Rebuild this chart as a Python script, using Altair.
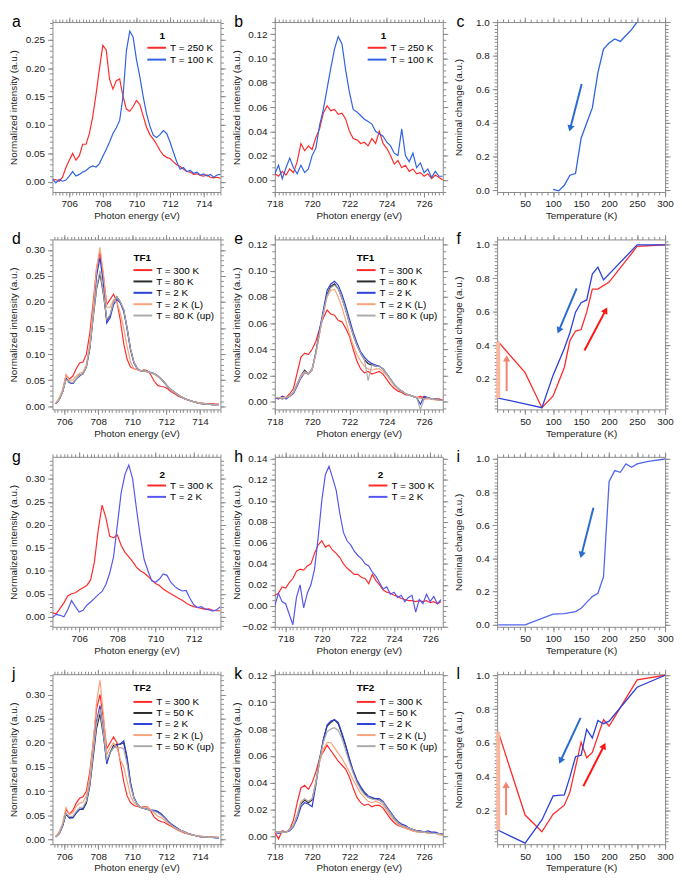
import math
import altair as alt
import pandas as pd

FONT = "Liberation Sans"
W, H = 170, 172

RED = "#ff2b2b"
BLUE_A = "#2f62e3"
BLUE_G = "#5656ee"
BLUE_I = "#5266ee"
BLUE_TF = "#2b3fd9"
BLACK = "#2b2b2b"
ORANGE = "#f7a47c"
GRAY = "#ababab"
ARROW_BLUE = "#2a6bd0"
ARROW_RED = "#ff1414"
ARROW_ORANGE = "#f0846e"
BAR_ORANGE = "#f9b7a0"

# ---------------- data ----------------
A_E = [705.0, 705.2, 705.4, 705.6, 705.8, 706.0, 706.2, 706.4, 706.6, 706.8,
       707.0, 707.2, 707.4, 707.6, 707.8, 708.0, 708.2, 708.4, 708.6, 708.8,
       709.0, 709.2, 709.4, 709.6, 709.8, 710.0, 710.2, 710.4, 710.6, 710.8,
       711.0, 711.2, 711.4, 711.6, 711.8, 712.0, 712.2, 712.4, 712.6, 712.8,
       713.0, 713.2, 713.4, 713.6, 713.8, 714.0, 714.2, 714.4, 714.6, 714.8, 715.0]
A_RED = [0.003, 0.004, 0.001, 0.008, 0.025, 0.038, 0.050, 0.038, 0.046, 0.066,
         0.066, 0.085, 0.115, 0.155, 0.200, 0.240, 0.232, 0.180, 0.163, 0.178,
         0.181, 0.150, 0.128, 0.124, 0.132, 0.143, 0.136, 0.116, 0.096, 0.083,
         0.075, 0.066, 0.055, 0.047, 0.043, 0.041, 0.035, 0.030, 0.027, 0.022,
         0.018, 0.017, 0.013, 0.014, 0.011, 0.010, 0.012, 0.008, 0.007, 0.008, 0.006]
A_BLUE = [0.005, -0.002, 0.004, 0.001, 0.003, 0.010, 0.018, 0.010, 0.013, 0.017,
          0.020, 0.025, 0.028, 0.026, 0.032, 0.045, 0.057, 0.070, 0.085, 0.095,
          0.108, 0.150, 0.230, 0.265, 0.255, 0.215, 0.185, 0.150, 0.120, 0.098,
          0.082, 0.078, 0.083, 0.090, 0.085, 0.070, 0.052, 0.035, 0.022, 0.025,
          0.018, 0.020, 0.015, 0.017, 0.012, 0.014, 0.010, 0.013, 0.008, 0.012, 0.013]

L2_E = [718.0, 718.2, 718.4, 718.6, 718.8, 719.0, 719.2, 719.4, 719.6, 719.8,
        720.0, 720.2, 720.4, 720.6, 720.8, 721.0, 721.2, 721.4, 721.6, 721.8,
        722.0, 722.2, 722.4, 722.6, 722.8, 723.0, 723.2, 723.4, 723.6, 723.8,
        724.0, 724.2, 724.4, 724.6, 724.8, 725.0, 725.2, 725.4, 725.6, 725.8,
        726.0, 726.2, 726.4, 726.6, 726.8, 727.0]
B_RED = [0.005, 0.003, 0.007, 0.004, 0.009, 0.006, 0.015, 0.030, 0.024, 0.028,
         0.025, 0.035, 0.042, 0.055, 0.061, 0.057, 0.058, 0.054, 0.055, 0.050,
         0.040, 0.034, 0.033, 0.030, 0.031, 0.028, 0.034, 0.030, 0.040, 0.030,
         0.026, 0.020, 0.013, 0.016, 0.010, 0.012, 0.007, 0.009, 0.005, 0.006,
         0.003, 0.005, 0.001, 0.004, 0.002, 0.000]
B_BLUE = [0.005, 0.012, 0.001, 0.010, 0.018, 0.010, 0.005, 0.012, 0.006, 0.009,
          0.020, 0.026, 0.045, 0.058, 0.075, 0.092, 0.108, 0.118, 0.112, 0.090,
          0.072, 0.058, 0.056, 0.053, 0.050, 0.048, 0.046, 0.040, 0.038, 0.036,
          0.031, 0.028, 0.022, 0.020, 0.042, 0.020, 0.015, 0.022, 0.010, 0.014,
          0.006, 0.009, 0.002, 0.007, 0.003, 0.003]

C_T = [100, 110, 120, 130, 140, 150, 160, 170, 180, 190, 200, 210, 220, 230, 240, 250]
C_V = [0.005, -0.003, 0.03, 0.09, 0.10, 0.31, 0.40, 0.49, 0.70, 0.84, 0.875, 0.90, 0.885, 0.92, 0.955, 1.0]
C_ARROW = (151, 0.632, 131, 0.374)

D_E = [705.5, 705.7, 705.9, 706.1, 706.3, 706.5, 706.7, 706.9, 707.1, 707.3,
       707.5, 707.7, 707.9, 708.1, 708.3, 708.5, 708.7, 708.9, 709.1, 709.3,
       709.5, 709.7, 709.9, 710.1, 710.3, 710.5, 710.7, 710.9, 711.1, 711.3,
       711.5, 711.7, 711.9, 712.1, 712.3, 712.5, 712.7, 712.9, 713.1, 713.3,
       713.5, 713.7, 713.9, 714.1, 714.3, 714.5, 714.7, 714.9, 715.1]
D_RED = [0.005, 0.015, 0.030, 0.060, 0.052, 0.058, 0.072, 0.083, 0.085, 0.100,
         0.140, 0.200, 0.265, 0.295, 0.250, 0.195, 0.205, 0.215, 0.200, 0.165,
         0.120, 0.090, 0.075, 0.072, 0.070, 0.068, 0.070, 0.068, 0.060, 0.048,
         0.040, 0.038, 0.037, 0.033, 0.028, 0.024, 0.020, 0.017, 0.014, 0.012,
         0.010, 0.008, 0.007, 0.006, 0.005, 0.005, 0.005, 0.004, 0.004]
D_BLACK = [0.005, 0.013, 0.028, 0.052, 0.046, 0.044, 0.052, 0.060, 0.062, 0.075,
           0.110, 0.170, 0.225, 0.255, 0.215, 0.165, 0.175, 0.200, 0.210, 0.200,
           0.185, 0.150, 0.110, 0.085, 0.072, 0.068, 0.068, 0.067, 0.064, 0.062,
           0.058, 0.053, 0.046, 0.038, 0.032, 0.027, 0.022, 0.018, 0.015, 0.012,
           0.010, 0.008, 0.006, 0.005, 0.004, 0.004, 0.003, 0.003, 0.003]
D_BLUE = [0.005, 0.013, 0.028, 0.054, 0.045, 0.044, 0.052, 0.058, 0.063, 0.078,
          0.115, 0.180, 0.250, 0.285, 0.235, 0.160, 0.170, 0.195, 0.205, 0.198,
          0.182, 0.148, 0.108, 0.083, 0.072, 0.068, 0.068, 0.066, 0.065, 0.063,
          0.058, 0.052, 0.045, 0.037, 0.031, 0.026, 0.022, 0.018, 0.014, 0.012,
          0.010, 0.008, 0.006, 0.005, 0.004, 0.004, 0.003, 0.003, 0.003]
D_ORANGE = [0.006, 0.016, 0.032, 0.060, 0.050, 0.050, 0.058, 0.063, 0.066, 0.080,
            0.120, 0.190, 0.265, 0.305, 0.255, 0.190, 0.190, 0.205, 0.200, 0.178,
            0.150, 0.115, 0.085, 0.072, 0.070, 0.068, 0.068, 0.066, 0.064, 0.062,
            0.057, 0.052, 0.046, 0.038, 0.031, 0.026, 0.022, 0.018, 0.014, 0.012,
            0.010, 0.008, 0.007, 0.006, 0.005, 0.004, 0.004, 0.003, 0.003]
D_GRAY = [0.005, 0.013, 0.028, 0.051, 0.047, 0.045, 0.052, 0.060, 0.062, 0.076,
          0.112, 0.172, 0.228, 0.260, 0.218, 0.167, 0.176, 0.200, 0.210, 0.200,
          0.186, 0.150, 0.110, 0.085, 0.072, 0.068, 0.068, 0.067, 0.064, 0.062,
          0.058, 0.053, 0.046, 0.038, 0.032, 0.027, 0.022, 0.018, 0.015, 0.012,
          0.010, 0.008, 0.006, 0.005, 0.004, 0.004, 0.003, 0.003, 0.003]

E_RED = [0.003, 0.002, 0.004, 0.003, 0.006, 0.010, 0.022, 0.034, 0.037, 0.036,
         0.040, 0.046, 0.056, 0.064, 0.070, 0.067, 0.066, 0.062, 0.061, 0.056,
         0.050, 0.040, 0.031, 0.025, 0.022, 0.023, 0.021, 0.022, 0.023, 0.021,
         0.017, 0.013, 0.010, 0.008, 0.007, 0.005, 0.005, 0.004, 0.003, 0.004,
         0.003, 0.003, 0.002, 0.002, 0.002, 0.001]
E_BLACK = [0.003, 0.003, 0.002, 0.003, 0.004, 0.007, 0.013, 0.020, 0.024, 0.021,
           0.025, 0.037, 0.053, 0.068, 0.082, 0.088, 0.090, 0.086, 0.079, 0.070,
           0.060, 0.051, 0.043, 0.037, 0.032, 0.029, 0.028, 0.027, 0.027, 0.025,
           0.021, 0.017, 0.013, 0.010, 0.008, 0.006, 0.005, 0.004, 0.003, 0.003,
           0.002, 0.003, 0.002, 0.002, 0.001, 0.001]
E_BLUE = [0.003, 0.002, 0.004, 0.002, 0.004, 0.006, 0.012, 0.018, 0.022, 0.021,
          0.024, 0.038, 0.055, 0.070, 0.085, 0.090, 0.092, 0.089, 0.082, 0.073,
          0.063, 0.053, 0.045, 0.038, 0.034, 0.031, 0.029, 0.028, 0.027, 0.025,
          0.021, 0.017, 0.013, 0.010, 0.008, 0.006, 0.005, 0.004, 0.003, -0.002,
          0.004, 0.003, 0.002, 0.002, 0.001, 0.001]
E_ORANGE = [0.003, 0.003, 0.003, 0.003, 0.004, 0.007, 0.013, 0.019, 0.022, 0.021,
            0.024, 0.036, 0.052, 0.067, 0.080, 0.085, 0.086, 0.080, 0.072, 0.062,
            0.052, 0.043, 0.036, 0.031, 0.027, 0.025, 0.024, 0.025, 0.025, 0.023,
            0.020, 0.016, 0.012, 0.010, 0.008, 0.006, 0.005, 0.004, 0.003, 0.003,
            0.002, 0.002, 0.002, 0.001, 0.001, 0.001]
E_GRAY = [0.003, 0.003, 0.002, 0.003, 0.004, 0.007, 0.014, 0.020, 0.023, 0.021,
          0.025, 0.037, 0.053, 0.067, 0.081, 0.087, 0.089, 0.086, 0.079, 0.070,
          0.060, 0.051, 0.043, 0.037, 0.032, 0.016, 0.028, 0.027, 0.027, 0.025,
          0.021, 0.017, 0.013, 0.010, 0.008, 0.006, 0.005, 0.004, 0.003, -0.006,
          0.002, 0.003, 0.002, 0.002, 0.001, 0.001]

F_T_COOL = [2, 80, 100, 120, 130, 140, 150, 160, 170, 180, 190, 250, 300]
F_COOL = [0.083, 0.025, 0.22, 0.38, 0.474, 0.597, 0.654, 0.67, 0.825, 0.866, 0.79, 1.0, 1.0]
F_T_HEAT = [2, 50, 80, 100, 120, 130, 140, 150, 160, 170, 180, 200, 250, 300]
F_HEAT = [0.42, 0.235, 0.025, 0.096, 0.266, 0.427, 0.484, 0.493, 0.597, 0.735, 0.735, 0.777, 0.99, 1.0]
F_BAR = (2, 0.083, 0.42)
F_ARROW_BLUE = (142, 0.739, 111, 0.493)
F_ARROW_RED = (156, 0.367, 193, 0.603)
F_ARROW_ORANGE = (17, 0.125, 17, 0.314)

G_E = [704.6, 704.8, 705.0, 705.2, 705.4, 705.6, 705.8, 706.0, 706.2, 706.4,
       706.6, 706.8, 707.0, 707.2, 707.4, 707.6, 707.8, 708.0, 708.2, 708.4,
       708.6, 708.8, 709.0, 709.2, 709.4, 709.6, 709.8, 710.0, 710.2, 710.4,
       710.6, 710.8, 711.0, 711.2, 711.4, 711.6, 711.8, 712.0, 712.2, 712.4,
       712.6, 712.8, 713.0, 713.2, 713.4]
G_RED = [0.008, 0.006, 0.018, 0.030, 0.045, 0.050, 0.052, 0.058, 0.063, 0.068,
         0.080, 0.120, 0.190, 0.243, 0.215, 0.175, 0.172, 0.178, 0.155, 0.140,
         0.130, 0.120, 0.108, 0.100, 0.095, 0.088, 0.080, 0.072, 0.068, 0.060,
         0.055, 0.050, 0.045, 0.040, 0.036, 0.030, 0.025, 0.022, 0.020, 0.018,
         0.016, 0.017, 0.014, 0.013, 0.013]
G_BLUE = [-0.002, 0.005, 0.003, 0.000, 0.015, 0.035, 0.022, 0.010, 0.014, 0.025,
          0.032, 0.040, 0.048, 0.055, 0.070, 0.095, 0.130, 0.200, 0.270, 0.310,
          0.330, 0.300, 0.235, 0.175, 0.125, 0.100, 0.078, 0.075, 0.082, 0.093,
          0.090, 0.075, 0.066, 0.060, 0.056, 0.057, 0.040, 0.026, 0.020, 0.022,
          0.017, 0.015, 0.012, 0.015, 0.022]

H_E = [717.4, 717.6, 717.8, 718.0, 718.2, 718.4, 718.6, 718.8, 719.0, 719.2,
       719.4, 719.6, 719.8, 720.0, 720.2, 720.4, 720.6, 720.8, 721.0, 721.2,
       721.4, 721.6, 721.8, 722.0, 722.2, 722.4, 722.6, 722.8, 723.0, 723.2,
       723.4, 723.6, 723.8, 724.0, 724.2, 724.4, 724.6, 724.8, 725.0, 725.2,
       725.4, 725.6, 725.8, 726.0, 726.2, 726.4, 726.6]
H_RED = [0.010, 0.012, 0.018, 0.017, 0.022, 0.026, 0.033, 0.035, 0.034, 0.038,
         0.040, 0.050, 0.058, 0.062, 0.056, 0.058, 0.053, 0.050, 0.046, 0.040,
         0.036, 0.033, 0.030, 0.030, 0.027, 0.026, 0.021, 0.030, 0.024, 0.020,
         0.015, 0.013, 0.012, 0.010, 0.009, 0.007, 0.006, 0.005, 0.005, 0.004,
         0.005, 0.004, 0.005, 0.003, 0.004, 0.002, 0.004]
H_BLUE = [0.000, 0.012, 0.004, 0.002, -0.008, -0.018, 0.008, 0.020, -0.002, 0.012,
          0.020, 0.035, 0.065, 0.100, 0.125, 0.133, 0.122, 0.110, 0.088, 0.070,
          0.062, 0.058, 0.052, 0.048, 0.045, 0.040, 0.038, 0.032, 0.028, 0.022,
          0.016, 0.018, 0.011, 0.013, 0.008, 0.010, 0.004, 0.008, 0.010, -0.006,
          0.006, 0.002, 0.011, 0.004, 0.009, 0.002, 0.006]

I_T = [2, 50, 100, 120, 140, 150, 160, 170, 180, 190, 200, 210, 220, 230, 240, 250, 270, 300]
I_V = [0.0, 0.0, 0.065, 0.068, 0.08, 0.10, 0.135, 0.17, 0.19, 0.29, 0.865, 0.93, 0.92, 0.97, 0.95, 0.97, 0.985, 1.0]
I_ARROW = (172, 0.706, 151, 0.427)

J_RED = [0.006, 0.014, 0.030, 0.062, 0.052, 0.060, 0.075, 0.085, 0.088, 0.100,
         0.140, 0.200, 0.270, 0.300, 0.250, 0.188, 0.200, 0.212, 0.200, 0.160,
         0.120, 0.090, 0.076, 0.070, 0.068, 0.066, 0.068, 0.067, 0.058, 0.046,
         0.040, 0.037, 0.035, 0.031, 0.027, 0.023, 0.019, 0.016, 0.013, 0.011,
         0.009, 0.008, 0.007, 0.006, 0.005, 0.005, 0.004, 0.004, 0.004]
J_BLACK = [0.005, 0.012, 0.028, 0.052, 0.045, 0.045, 0.055, 0.062, 0.062, 0.075,
           0.110, 0.170, 0.230, 0.260, 0.215, 0.160, 0.180, 0.195, 0.197, 0.197,
           0.200, 0.165, 0.115, 0.085, 0.072, 0.066, 0.064, 0.062, 0.060, 0.059,
           0.057, 0.052, 0.045, 0.037, 0.031, 0.026, 0.022, 0.018, 0.015, 0.012,
           0.010, 0.008, 0.006, 0.005, 0.005, 0.004, 0.004, 0.004, 0.003]
J_BLUE = [0.005, 0.012, 0.028, 0.054, 0.044, 0.045, 0.055, 0.062, 0.064, 0.078,
          0.115, 0.180, 0.245, 0.277, 0.225, 0.156, 0.180, 0.190, 0.195, 0.198,
          0.204, 0.170, 0.118, 0.087, 0.073, 0.066, 0.064, 0.062, 0.061, 0.060,
          0.058, 0.053, 0.046, 0.038, 0.032, 0.027, 0.022, 0.018, 0.015, 0.012,
          0.010, 0.008, 0.006, 0.005, 0.005, 0.004, 0.004, 0.003, 0.003]
J_ORANGE = [0.006, 0.016, 0.034, 0.066, 0.052, 0.055, 0.068, 0.075, 0.077, 0.090,
            0.130, 0.200, 0.285, 0.330, 0.260, 0.175, 0.190, 0.200, 0.190, 0.165,
            0.150, 0.120, 0.090, 0.076, 0.070, 0.067, 0.067, 0.066, 0.062, 0.055,
            0.048, 0.045, 0.040, 0.034, 0.029, 0.024, 0.020, 0.017, 0.014, 0.011,
            0.009, 0.008, 0.007, 0.006, 0.005, 0.005, 0.004, 0.004, 0.004]
J_GRAY = [0.005, 0.012, 0.030, 0.054, 0.047, 0.048, 0.058, 0.066, 0.067, 0.080,
          0.115, 0.180, 0.240, 0.270, 0.220, 0.165, 0.180, 0.190, 0.190, 0.190,
          0.188, 0.155, 0.110, 0.085, 0.072, 0.066, 0.064, 0.062, 0.060, 0.058,
          0.055, 0.050, 0.044, 0.036, 0.030, 0.025, 0.021, 0.018, 0.015, 0.012,
          0.010, 0.008, 0.006, 0.005, 0.005, 0.004, 0.004, 0.004, 0.003]

K_RED = [0.003, -0.002, 0.004, 0.003, 0.005, 0.012, 0.025, 0.036, 0.038, 0.035,
         0.040, 0.048, 0.058, 0.063, 0.068, 0.064, 0.060, 0.056, 0.053, 0.050,
         0.044, 0.036, 0.029, 0.025, 0.023, 0.024, 0.022, 0.023, 0.023, 0.021,
         0.017, 0.013, 0.010, 0.008, 0.007, 0.006, 0.005, 0.004, 0.004, 0.003,
         0.003, 0.003, 0.002, 0.002, 0.002, 0.001]
K_BLACK = [0.003, 0.003, 0.003, 0.003, 0.005, 0.008, 0.015, 0.024, 0.027, 0.025,
           0.027, 0.040, 0.058, 0.072, 0.082, 0.085, 0.087, 0.084, 0.076, 0.067,
           0.057, 0.048, 0.041, 0.036, 0.032, 0.029, 0.028, 0.028, 0.027, 0.025,
           0.021, 0.017, 0.013, 0.010, 0.008, 0.007, 0.006, 0.005, 0.004, 0.003,
           0.003, 0.003, 0.002, 0.002, 0.002, 0.001]
K_BLUE = [0.003, 0.002, 0.003, 0.003, 0.004, 0.007, 0.013, 0.022, 0.025, 0.024,
          0.022, 0.038, 0.056, 0.072, 0.083, 0.086, 0.087, 0.085, 0.077, 0.068,
          0.058, 0.049, 0.042, 0.037, 0.033, 0.030, 0.029, 0.028, 0.028, 0.026,
          0.022, 0.018, 0.014, 0.011, 0.009, 0.008, 0.006, 0.005, 0.004, 0.004,
          0.003, 0.004, 0.003, 0.003, 0.002, 0.002]
K_ORANGE = [0.003, 0.003, 0.003, 0.003, 0.005, 0.008, 0.016, 0.026, 0.028, 0.026,
            0.028, 0.040, 0.055, 0.065, 0.070, 0.070, 0.066, 0.062, 0.058, 0.053,
            0.048, 0.042, 0.037, 0.032, 0.029, 0.026, 0.025, 0.026, 0.025, 0.023,
            0.019, 0.015, 0.012, 0.009, 0.007, 0.006, 0.005, 0.004, 0.003, 0.003,
            0.003, 0.002, 0.002, 0.002, 0.001, 0.001]
K_GRAY = [0.003, 0.003, 0.003, 0.003, 0.005, 0.008, 0.015, 0.025, 0.028, 0.026,
          0.028, 0.040, 0.057, 0.070, 0.078, 0.080, 0.081, 0.079, 0.073, 0.064,
          0.055, 0.047, 0.040, 0.035, 0.031, 0.029, 0.028, 0.027, 0.027, 0.025,
          0.021, 0.017, 0.013, 0.010, 0.008, 0.007, 0.006, 0.005, 0.004, 0.003,
          0.003, 0.003, 0.002, 0.002, 0.002, 0.001]

L_T_COOL = [2, 50, 80, 100, 120, 130, 140, 150, 160, 170, 180, 190, 200, 250, 300]
L_COOL = [0.085, 0.009, 0.146, 0.288, 0.294, 0.40, 0.519, 0.528, 0.681, 0.63, 0.733, 0.714, 0.729, 0.929, 1.0]
L_T_HEAT = [2, 50, 80, 100, 120, 130, 150, 160, 170, 190, 200, 250, 300]
L_HEAT = [0.666, 0.175, 0.076, 0.18, 0.233, 0.31, 0.605, 0.513, 0.544, 0.739, 0.70, 0.973, 1.0]
L_BAR = (2, 0.085, 0.666)
L_ARROW_BLUE = (149, 0.748, 114, 0.50)
L_ARROW_RED = (154, 0.345, 190, 0.578)
L_ARROW_ORANGE = (16, 0.174, 16, 0.347)

LAB_1 = ["T = 250 K", "T = 100 K"]
LAB_TF1 = ["T = 300 K", "T = 80 K", "T = 2 K", "T = 2 K (L)", "T = 80 K (up)"]
LAB_2 = ["T = 300 K", "T = 2 K"]
LAB_TF2 = ["T = 300 K", "T = 50 K", "T = 2 K", "T = 2 K (L)", "T = 50 K (up)"]

E_TITLE = "Photon energy (eV)"
I_TITLE = "Normalized intensity (a.u.)"
T_TITLE = "Temperature (K)"
N_TITLE = "Nominal change (a.u.)"


# ---------------- helpers ----------------
def ticks_between(lo, hi, step):
    start = math.ceil(lo / step - 1e-9)
    end = math.floor(hi / step + 1e-9)
    return [round(k * step, 6) for k in range(start, end + 1)]


def sc(dom):
    return alt.Scale(domain=list(dom), nice=False, zero=False)


def frame(xdom, ydom, xmaj, ymaj, xstep, ystep, xfmt, yfmt, xtitle, ytitle):
    df = pd.DataFrame({"x": list(xdom), "y": list(ydom)})
    xmin = ticks_between(xdom[0], xdom[1], xstep)
    ymin = ticks_between(ydom[0], ydom[1], ystep)
    layers = [alt.Chart(df).mark_point(opacity=0).encode(
        x=alt.X("x:Q", scale=sc(xdom), axis=alt.Axis(
            orient="bottom", values=xmaj, format=xfmt, tickSize=5, labelPadding=2,
            labelFlush=False, labelOverlap=False, title=xtitle, titlePadding=2)),
        y=alt.Y("y:Q", scale=sc(ydom), axis=alt.Axis(
            orient="left", values=ymaj, format=yfmt, tickSize=5, labelPadding=3,
            labelFlush=False, labelOverlap=False, title=ytitle, titleX=-34)))]
    for xo, yo, xv, yv, ts in [("top", "right", xmaj, ymaj, 5),
                               ("bottom", "left", xmin, ymin, 3),
                               ("top", "right", xmin, ymin, 3)]:
        layers.append(alt.Chart(df).mark_point(opacity=0).encode(
            x=alt.X("x:Q", scale=sc(xdom), axis=alt.Axis(orient=xo, values=xv, labels=False, tickSize=ts, title=None)),
            y=alt.Y("y:Q", scale=sc(ydom), axis=alt.Axis(orient=yo, values=yv, labels=False, tickSize=ts, title=None))))
    return layers


def text_at(t, x, y, size, weight="normal", align="left"):
    return alt.Chart(pd.DataFrame({"t": [t]})).mark_text(
        font=FONT, fontSize=size, fontWeight=weight, align=align, baseline="alphabetic", color="#000000"
    ).encode(x=alt.value(x), y=alt.value(y), text="t:N")


def manual_legend(labels, colors, x0, y0, dy, title=None, title_xy=None, title_align="left"):
    """Legend drawn inside the plot: a short stroke and a label per entry."""
    out = []
    if title:
        out.append(text_at(title, title_xy[0], title_xy[1], 10, "bold", title_align))
    for i, (lab, col) in enumerate(zip(labels, colors)):
        yy = y0 + i * dy
        out.append(alt.Chart(pd.DataFrame({"t": [lab]})).mark_rule(color=col, strokeWidth=2).encode(
            x=alt.value(x0), x2=alt.value(x0 + 19), y=alt.value(yy)))
        out.append(text_at(lab, x0 + 23, yy + 3.5, 10))
    return out


def spectra_layer(energy, series, labels, colors, xdom, ydom):
    rows = []
    for lab, vals in zip(labels, series):
        assert len(vals) == len(energy), (lab, len(vals), len(energy))
        for e, v in zip(energy, vals):
            rows.append({"E": e, "I": v, "S": lab})
    df = pd.DataFrame(rows)
    return alt.Chart(df).mark_line(strokeWidth=1.2, clip=True).encode(
        x=alt.X("E:Q", scale=sc(xdom), axis=None),
        y=alt.Y("I:Q", scale=sc(ydom), axis=None),
        color=alt.Color("S:N", scale=alt.Scale(domain=labels, range=colors), legend=None),
    )


def temp_line(T, V, color, xdom, ydom):
    df = pd.DataFrame({"T": T, "V": V})
    return alt.Chart(df).mark_line(color=color, strokeWidth=1.3, clip=True).encode(
        x=alt.X("T:Q", scale=sc(xdom), axis=None),
        y=alt.Y("V:Q", scale=sc(ydom), axis=None))


def arrow(a, color, xdom, ydom):
    x1, y1, x2, y2 = a
    dxs = (x2 - x1) / (xdom[1] - xdom[0]) * W
    dys = -(y2 - y1) / (ydom[1] - ydom[0]) * H
    ang = math.degrees(math.atan2(dxs, -dys)) % 360
    df = pd.DataFrame({"x": [x1], "y": [y1], "x2": [x2], "y2": [y2], "a": [ang]})
    line = alt.Chart(df).mark_rule(color=color, strokeWidth=2).encode(
        x=alt.X("x:Q", scale=sc(xdom), axis=None), y=alt.Y("y:Q", scale=sc(ydom), axis=None),
        x2="x2:Q", y2="y2:Q")
    head = alt.Chart(df).mark_point(shape="triangle", filled=True, color=color, size=55, opacity=1).encode(
        x=alt.X("x2:Q", scale=sc(xdom), axis=None), y=alt.Y("y2:Q", scale=sc(ydom), axis=None),
        angle=alt.Angle("a:Q", scale=None))
    return [line, head]


def bar(b, xdom, ydom):
    x, y1, y2 = b
    df = pd.DataFrame({"x": [x], "y": [y1], "y2": [y2]})
    return alt.Chart(df).mark_rule(color=BAR_ORANGE, strokeWidth=4).encode(
        x=alt.X("x:Q", scale=sc(xdom), axis=None), y=alt.Y("y:Q", scale=sc(ydom), axis=None), y2="y2:Q")


LETTER_Y = 5


def panel(layers):
    return alt.layer(*layers).resolve_axis(x="independent", y="independent").properties(width=W, height=H)


def spectra_panel(letter, energy, series, labels, colors, xdom, ydom, xmaj, ymaj, ystep, legend_layers):
    layers = frame(xdom, ydom, xmaj, ymaj, 0.2, ystep, "d", ".2f", E_TITLE, I_TITLE)
    layers.append(spectra_layer(energy, series, labels, colors, xdom, ydom))
    layers += legend_layers
    layers.append(text_at(letter, -41, LETTER_Y, 16))
    return panel(layers)


def temp_panel(letter, ydom, ymaj, lines, extras):
    xdom = (0, 300)
    layers = frame(xdom, ydom, [50, 100, 150, 200, 250, 300], ymaj, 10, 0.02, "d", ".1f", T_TITLE, N_TITLE)
    for T, V, c in lines:
        layers.append(temp_line(T, V, c, xdom, ydom))
    layers += extras
    layers.append(text_at(letter, -41, LETTER_Y, 16))
    return panel(layers)


# ---------------- panels ----------------
XA = (705, 715); YA = (-0.018, 0.281)
XB = (718, 727); YB = (-0.010, 0.130)
YC = (-0.01, 1.0)
XD = (705.3, 715.2); YD = (-0.006, 0.32)
XE = (718, 727); YE = (-0.006, 0.124)
YF = (0.015, 1.032)
XG = (704.6, 713.4); YG = (-0.022, 0.348)
XH = (717.4, 726.7); YH = (-0.02, 0.142)
YI = (-0.012, 1.013)
XJ = (705.3, 715.2); YJ = (-0.01, 0.342)
XK = (718, 727); YK = (-0.006, 0.121)
YL = (0.003, 1.006)
TX = (0, 300)

L3 = [706, 708, 710, 712, 714]
L2T = [718, 720, 722, 724, 726]
Y30 = [0.0, 0.05, 0.10, 0.15, 0.20, 0.25, 0.30]
Y12 = [0.0, 0.02, 0.04, 0.06, 0.08, 0.10, 0.12]
N_ALL = [0.0, 0.2, 0.4, 0.6, 0.8, 1.0]
N_UP = [0.2, 0.4, 0.6, 0.8, 1.0]
C2 = [RED, BLUE_A]
C2G = [RED, BLUE_G]
C5 = [RED, BLACK, BLUE_TF, ORANGE, GRAY]

pa = spectra_panel("a", A_E, [A_RED, A_BLUE], LAB_1, C2, XA, YA, L3,
                   [0.0, 0.05, 0.10, 0.15, 0.20, 0.25], 0.01,
                   manual_legend(LAB_1, C2, 96, 26, 12, "1", (111, 17), "center"))
pb = spectra_panel("b", L2_E, [B_RED, B_BLUE], LAB_1, C2, XB, YB, L2T, Y12, 0.005,
                   manual_legend(LAB_1, C2, 94, 26, 12, "1", (110, 17), "center"))
pc = temp_panel("c", YC, N_ALL, [(C_T, C_V, BLUE_A)], arrow(C_ARROW, ARROW_BLUE, TX, YC))
pd_ = spectra_panel("d", D_E, [D_RED, D_BLACK, D_BLUE, D_ORANGE, D_GRAY], LAB_TF1, C5, XD, YD, L3, Y30, 0.01,
                    manual_legend(LAB_TF1, C5, 82, 31, 11.5, "TF1", (82, 22)))
pe = spectra_panel("e", L2_E, [E_RED, E_BLACK, E_BLUE, E_ORANGE, E_GRAY], LAB_TF1, C5, XE, YE, L2T, Y12, 0.005,
                   manual_legend(LAB_TF1, C5, 83, 31, 11.5, "TF1", (83, 22)))
pf = temp_panel("f", YF, N_UP, [(F_T_HEAT, F_HEAT, RED), (F_T_COOL, F_COOL, BLUE_TF)],
                [bar(F_BAR, TX, YF)] + arrow(F_ARROW_BLUE, ARROW_BLUE, TX, YF)
                + arrow(F_ARROW_RED, ARROW_RED, TX, YF) + arrow(F_ARROW_ORANGE, ARROW_ORANGE, TX, YF))
pg = spectra_panel("g", G_E, [G_RED, G_BLUE], LAB_2, C2G, XG, YG, [706, 708, 710, 712], Y30, 0.01,
                   manual_legend(LAB_2, C2G, 96, 29, 11.5, "2", (111, 21), "center"))
ph = spectra_panel("h", H_E, [H_RED, H_BLUE], LAB_2, C2G, XH, YH, L2T,
                   [-0.02, 0.0, 0.02, 0.04, 0.06, 0.08, 0.10, 0.12, 0.14], 0.005,
                   manual_legend(LAB_2, C2G, 95, 29, 11.5, "2", (107, 21), "center"))
pi = temp_panel("i", YI, N_ALL, [(I_T, I_V, BLUE_I)], arrow(I_ARROW, ARROW_BLUE, TX, YI))
pj = spectra_panel("j", D_E, [J_RED, J_BLACK, J_BLUE, J_ORANGE, J_GRAY], LAB_TF2, C5, XJ, YJ, L3, Y30, 0.01,
                   manual_legend(LAB_TF2, C5, 82, 28, 11.2, "TF2", (82, 17)))
pk = spectra_panel("k", L2_E, [K_RED, K_BLACK, K_BLUE, K_ORANGE, K_GRAY], LAB_TF2, C5, XK, YK, L2T, Y12, 0.005,
                   manual_legend(LAB_TF2, C5, 83, 28, 11.2, "TF2", (83, 17)))
pl = temp_panel("l", YL, N_UP, [(L_T_HEAT, L_HEAT, RED), (L_T_COOL, L_COOL, BLUE_TF)],
                [bar(L_BAR, TX, YL)] + arrow(L_ARROW_BLUE, ARROW_BLUE, TX, YL)
                + arrow(L_ARROW_RED, ARROW_RED, TX, YL) + arrow(L_ARROW_ORANGE, ARROW_ORANGE, TX, YL))

chart = alt.concat(pa, pb, pc, pd_, pe, pf, pg, ph, pi, pj, pk, pl, columns=3,
                   spacing={"row": 9, "column": 4}).resolve_scale(color="independent").properties(
    padding=0, background="white"
).configure_view(stroke="#8a8a8a", strokeWidth=1).configure_axis(
    domain=False, grid=False, tickColor="#8a8a8a", tickWidth=1, labelColor="#1a1a1a",
    titleColor="#1a1a1a", labelFont=FONT, titleFont=FONT, labelFontSize=10, titleFontSize=10,
    titleFontWeight="normal"
).configure_text(font=FONT)

chart.save("out.html", embed_options={"renderer": "svg", "actions": False})
